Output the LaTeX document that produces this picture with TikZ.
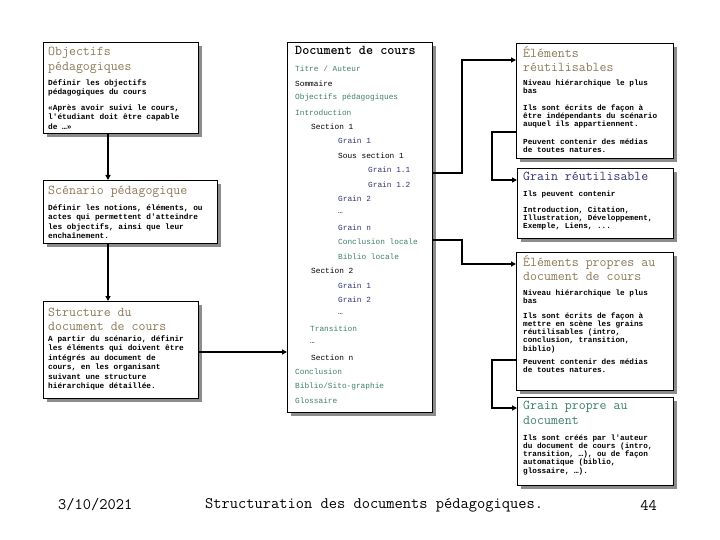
\documentclass[tikz,border=0pt]{standalone}
\usepackage{fontspec}
\newfontfamily\corps{Liberation Mono}
\usetikzlibrary{arrows.meta,shadows}

\definecolor{brun}{RGB}{140,122,88}
\definecolor{bleu}{RGB}{52,52,120}
\definecolor{vert}{RGB}{62,128,100}

\tikzset{
  bloc/.style={draw, line width=1.1pt, fill=white, inner sep=0pt, anchor=north west,
    drop shadow={shadow xshift=3pt, shadow yshift=-3pt, fill=black!45, opacity=1}},
  titre/.style={font=\ttfamily\fontsize{13.5}{14.5}\selectfont, text=brun, align=left,
    anchor=north west, inner sep=0pt},
  corpsg/.style={font=\corps\bfseries\fontsize{7.8}{9.5}\selectfont, align=left, anchor=north west, inner sep=0pt},
  corpsd/.style={font=\corps\bfseries\fontsize{7.7}{8.2}\selectfont, align=left, anchor=north west, inner sep=0pt},
  liste/.style={font=\corps\fontsize{7.8}{9}\selectfont, anchor=west, inner sep=0pt},
  pied/.style={font=\ttfamily\fontsize{16}{18}\selectfont, inner sep=0pt},
  lien/.style={line width=1.5pt},
  fleche/.style={lien, -{Triangle[length=5pt,width=5pt]}}
}

\begin{document}
\begin{tikzpicture}[x=1pt, y=-1pt]
  \fill[white] (0,0) rectangle (720,540);
  \useasboundingbox (0,0) rectangle (720,540);

  % cadres
  \node[bloc, minimum width=155, minimum height=91] (objbox) at (43,42) {};
  \node[bloc, minimum width=174, minimum height=63] (scenbox) at (43,180) {};
  \node[bloc, minimum width=155, minimum height=97] (structbox) at (43,301) {};
  \node[bloc, minimum width=145, minimum height=370] (docbox) at (287,42) {};
  \node[bloc, minimum width=157, minimum height=115] (reutbox) at (516,43) {};
  \node[bloc, minimum width=156, minimum height=70] (grainreut) at (517,168) {};
  \node[bloc, minimum width=157, minimum height=138] (proprebox) at (516,252) {};
  \node[bloc, minimum width=156, minimum height=88] (grainpropre) at (517,397) {};

  % colonne de gauche
  \node[titre] (objtitre) at (48,47) {Objectifs\\pédagogiques};
  \node[corpsg] (objdef) at (48,79.5) {Définir les objectifs\\pédagogiques du cours};
  \node[corpsg] (objcit) at (48,104.5) {«Après avoir suivi le cours,\\l'étudiant doit être capable\\de …»};

  \node[titre] (scentitre) at (48,185.5) {Scénario pédagogique};
  \node[corpsg] (scendef) at (48,204.5) {Définir les notions, éléments, ou\\actes qui permettent d'atteindre\\les objectifs, ainsi que leur\\enchaînement.};

  \node[titre] (structtitre) at (48,307.5) {Structure du\\document de cours};
  \node[corpsg] (structdef) at (48,335.5) {A partir du scénario, définir\\les éléments qui doivent être\\intégrés au document de\\cours, en les organisant\\suivant une structure\\hiérarchique détaillée.};

  % document de cours
  \node[titre, text=black, font=\ttfamily\bfseries\fontsize{13.5}{14.5}\selectfont] (doctitre) at (295,46.5) {Document de cours};
  \foreach \x/\coul/\txt [count=\i from 0] in {
      295/vert/{Titre / Auteur}, 295/black/Sommaire, 295/vert/Objectifs pédagogiques,
      295/vert/Introduction, 311/black/Section 1, 338/bleu/Grain 1,
      338/black/Sous section 1, 368/bleu/Grain 1.1, 368/bleu/Grain 1.2,
      338/bleu/Grain 2, 338/black/…, 338/bleu/Grain n,
      338/vert/Conclusion locale, 338/vert/Biblio locale, 311/black/Section 2,
      338/bleu/Grain 1, 338/bleu/Grain 2, 338/black/…,
      310/vert/Transition, 310/black/…, 311/black/Section n,
      295/vert/Conclusion, 295/vert/{Biblio/Sito-graphie}, 295/vert/Glossaire}
    \node[liste, text=\coul] (item\i) at (\x,{69+14.43*\i}) {\txt};

  % colonne de droite
  \node[titre] (reuttitre) at (523,46) {Éléments\\réutilisables};
  \node[corpsd] (reutniv) at (523,79.5) {Niveau hiérarchique le plus\\bas};
  \node[corpsd] (reutecr) at (523,104.5) {Ils sont écrits de façon à\\être indépendants du scénario\\auquel ils appartiennent.};
  \node[corpsd] (reutmed) at (523,138.5) {Peuvent contenir des médias\\de toutes natures.};

  \node[titre, text=bleu] (grtitre) at (523,172) {Grain réutilisable};
  \node[corpsd] (grcont) at (523,190.5) {Ils peuvent contenir};
  \node[corpsd] (grliste) at (523,206.5) {Introduction, Citation,\\Illustration, Développement,\\Exemple, Liens, ...};

  \node[titre] (proptitre) at (523,255) {Éléments propres au\\document de cours};
  \node[corpsd] (propniv) at (523,289.5) {Niveau hiérarchique le plus\\bas};
  \node[corpsd] (propecr) at (523,312.5) {Ils sont écrits de façon à\\mettre en scène les grains\\réutilisables (intro,\\conclusion, transition,\\biblio)};
  \node[corpsd] (propmed) at (523,358.5) {Peuvent contenir des médias\\de toutes natures.};

  \node[titre, text=vert] (gptitre) at (523,401) {Grain propre au\\document};
  \node[corpsd] (gpdef) at (523,434.5) {Ils sont créés par l'auteur\\du document de cours (intro,\\transition, …), ou de façon\\automatique (biblio,\\glossaire, …).};

  % liaisons
  \draw[fleche] (108,0 |- objbox.south) -- (108,0 |- scenbox.north);
  \draw[fleche] (108,0 |- scenbox.south) -- (108,0 |- structbox.north);
  \draw[fleche] (structbox.east |- 0,352) -- (docbox.west |- 0,352);
  \draw[fleche] (docbox.east |- 0,173) -- (462,173) |- (reutbox.west |- 0,60);
  \draw[fleche] (reutbox.west |- 0,132) -- (492,132) |- (grainreut.west |- 0,180);
  \draw[fleche] (docbox.east |- 0,240) -- (462,240) |- (proprebox.west |- 0,264);
  \draw[fleche] (proprebox.west |- 0,360) -- (492,360) |- (grainpropre.west |- 0,408);

  % pied de page
  \node[pied, anchor=west] (date) at (58,505) {3/10/2021};
  \node[pied, anchor=west] (sujet) at (205,505) {Structuration des documents pédagogiques.};
  \node[pied, anchor=east] (page) at (657,505) {44};
\end{tikzpicture}
\end{document}
